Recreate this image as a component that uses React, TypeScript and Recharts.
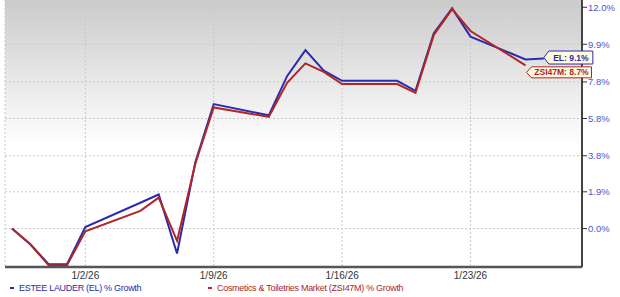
import React from "react";
import {
  LineChart,
  Line,
  XAxis,
  YAxis,
  CartesianGrid,
  Legend,
  LabelList
} from "recharts";

// trading days (holidays carry the prior close)
const dates = [
  "2025-12-29", "2025-12-30", "2025-12-31", "2026-01-01", "2026-01-02",
  "2026-01-05", "2026-01-06", "2026-01-07", "2026-01-08", "2026-01-09",
  "2026-01-12", "2026-01-13", "2026-01-14", "2026-01-15", "2026-01-16",
  "2026-01-19", "2026-01-20", "2026-01-21", "2026-01-22", "2026-01-23",
  "2026-01-26", "2026-01-27"
];

// % growth
const elValues = [
  0, -0.8, -1.81, -1.81, 0.08, 1.33, 1.76, -1.27, 3.47, 6.58, 5.97,
  8.12, 9.57, 8.42, 7.86, 7.86, 7.31, 10.52, 11.94, 10.33, 9.05, 9.1
];
const zsiValues = [
  0, -0.8, -1.86, -1.86, -0.14, 0.91, 1.6, -0.63, 3.39, 6.4, 5.89,
  7.75, 8.83, 8.36, 7.68, 7.68, 7.2, 10.42, 11.89, 10.65, 8.72
];

const xTickDates = ["2026-01-02", "2026-01-09", "2026-01-16", "2026-01-23"];
const xTickLabels = ["1/2/26", "1/9/26", "1/16/26", "1/23/26"];
const yTickLabels = [0, 1.9, 3.8, 5.8, 7.8, 9.9, 12.0];

const DAY = 86400000;
const t0 = Date.parse(dates[0]);
const dayOf = (d: string) => (Date.parse(d) - t0) / DAY;

const rows = dates.map((d, i) => ({
  t: dayOf(d),
  el: 1 + elValues[i] / 100,
  zsi: zsiValues[i] != null ? 1 + zsiValues[i] / 100 : null
}));

const xTicks = xTickDates.map(dayOf);
const yTicks = yTickLabels.map((v) => 1 + v / 100);

const BLUE = "#2b2bb0";
const RED = "#b02626";
const FONT = "'Liberation Sans', Arial, sans-serif";

function makeTag(color: string, lastIndex: number, text: string, width: number, h: number, dx: number, dy: number) {
  return (props: any) => {
    if (props.index !== lastIndex) return null;
    const x = props.x + dx;
    const y = props.y + dy;
    const pts = [
      [x, y], [x + 5, y - h], [x + width, y - h], [x + width, y + h], [x + 5, y + h]
    ].map((p) => p.join(",")).join(" ");
    return (
      <g>
        <polygon points={pts} fill="#fffbe0" stroke={color} strokeWidth={1} />
        <text
          x={x + 5 + (width - 5) / 2}
          y={y + 3.1}
          textAnchor="middle"
          fontSize={8.5}
          fontWeight="bold"
          fontFamily={FONT}
          fill={color}
        >
          {text}
        </text>
      </g>
    );
  };
}

function renderLegend() {
  const item = (color: string, label: string, left: number) => (
    <div style={{ position: "absolute", left, top: 0, display: "flex", alignItems: "center", height: 14 }}>
      <span style={{ display: "inline-block", width: 4, height: 2, background: color, marginRight: 5 }} />
      <span style={{ color, fontSize: 9, fontFamily: FONT, letterSpacing: -0.3, whiteSpace: "nowrap" }}>{label}</span>
    </div>
  );
  return (
    <div style={{ position: "relative", height: 16, width: 620 }}>
      {item(BLUE, "ESTEE LAUDER (EL) % Growth", 10)}
      {item(RED, "Cosmetics & Toiletries Market (ZSI47M) % Growth", 208)}
    </div>
  );
}

export default function App() {
  const elLast = elValues.length - 1;
  const zsiLast = zsiValues.length - 1;
  return (
    <div style={{ position: "absolute", left: 0, top: 0, width: 620, height: 297, background: "#fff" }}>
      <LineChart
        width={620}
        height={297}
        data={rows}
        margin={{ top: 0, right: 0, left: 5, bottom: 0 }}
      >
        <defs>
          <linearGradient id="bgGrad" x1="0" y1="0" x2="0" y2="1">
            <stop offset="0%" stopColor="#cbcbcb" />
            <stop offset="55%" stopColor="#ffffff" />
            <stop offset="100%" stopColor="#ffffff" />
          </linearGradient>
        </defs>
        <CartesianGrid
          stroke="#c8c8c8"
          strokeDasharray="2 2"
          fill="url(#bgGrad)"
        />
        <XAxis
          dataKey="t"
          type="number"
          domain={[-0.38, 31.08]}
          ticks={xTicks}
          tickFormatter={(v: number) => xTickLabels[xTicks.indexOf(v)] ?? ""}
          height={14}
          tickSize={0}
          tickMargin={5}
          tick={{ fontSize: 10, fill: "#333", fontFamily: FONT }}
          axisLine={{ stroke: "#555", strokeWidth: 2.5 }}
          allowDataOverflow
        />
        <YAxis
          orientation="right"
          type="number"
          scale="log"
          domain={[0.9805, 1.1242]}
          ticks={yTicks}
          tickFormatter={(v: number) => {
            const i = yTicks.findIndex((t) => Math.abs(t - v) < 1e-6);
            return i >= 0 ? `${yTickLabels[i].toFixed(1)}%` : "";
          }}
          width={38}
          tickSize={5}
          tickMargin={1}
          tick={{ fontSize: 9.5, fill: "#5252c8", fontFamily: FONT }}
          tickLine={{ stroke: "#333" }}
          axisLine={{ stroke: "#444", strokeWidth: 2 }}
          allowDataOverflow
        />
        <Legend verticalAlign="bottom" height={16} content={renderLegend} wrapperStyle={{ left: 0, width: 620 }} />
        <Line
          type="linear"
          dataKey="el"
          stroke={BLUE}
          strokeWidth={2}
          dot={false}
          isAnimationActive={false}
        >
          <LabelList
            dataKey="el"
            content={makeTag(BLUE, elLast, `EL: ${elValues[elLast].toFixed(1)}%`, 49, 6.5, 0, -1)}
          />
        </Line>
        <Line
          type="linear"
          dataKey="zsi"
          stroke={RED}
          strokeWidth={2}
          dot={false}
          isAnimationActive={false}
        >
          <LabelList
            dataKey="zsi"
            content={makeTag(RED, zsiLast, `ZSI47M: ${zsiValues[zsiLast].toFixed(1)}%`, 65, 5.5, 1, 7)}
          />
        </Line>
      </LineChart>
    </div>
  );
}
